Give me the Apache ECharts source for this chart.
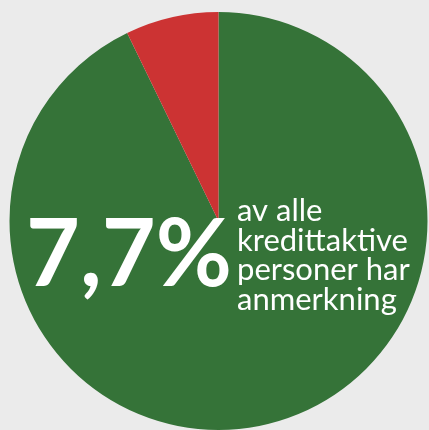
<!DOCTYPE html>
<html>
<head>
<meta charset="utf-8">
<script src="https://cdn.jsdelivr.net/npm/echarts@6/dist/echarts.min.js"></script>
<style>
html,body{margin:0;padding:0;background:#ebebeb;}
#c{width:429px;height:430px;}
</style>
</head>
<body>
<div id="c"></div>
<script>
const categories = ["Uten anmerkning", "Med anmerkning"];
const values = [92.8, 7.2];
const colors = ["#357338", "#cc3333"];
const headline = "7,7%";
const captionLines = ["av alle", "kredittaktive", "personer har", "anmerkning"];

const chart = echarts.init(document.getElementById('c'), null, {renderer: 'canvas'});
chart.setOption({
  backgroundColor: '#ebebeb',
  animation: false,
  series: [{
    type: 'pie',
    center: [218.5, 221],
    radius: 209,
    startAngle: 90,
    clockwise: true,
    label: {show: false},
    labelLine: {show: false},
    emphasis: {disabled: true},
    itemStyle: {borderWidth: 0},
    data: categories.map((n, i) => ({name: n, value: values[i], itemStyle: {color: colors[i]}}))
  }],
  graphic: [
    {
      type: 'text',
      z: 100,
      x: 26, y: 256,
      style: {
        text: headline,
        fill: '#ffffff',
        font: 'bold 93px Lato',
        verticalAlign: 'middle',
        align: 'left'
      }
    },
    {
      type: 'text',
      z: 100,
      x: 237, y: 196,
      style: {
        text: captionLines.join('\n'),
        fill: '#ffffff',
        font: '31px Lato',
        lineHeight: 29.7,
        verticalAlign: 'top',
        align: 'left'
      }
    }
  ]
});
</script>
</body>
</html>
